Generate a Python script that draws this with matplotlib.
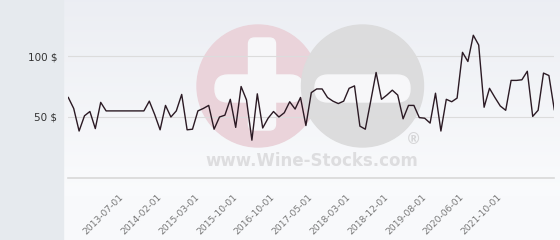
import matplotlib
matplotlib.use("Agg")
import matplotlib.pyplot as plt
import numpy as np
from matplotlib.patches import Circle, FancyBboxPatch, Rectangle

# price series, one value per quote
prices = [66, 57, 38.5, 51, 54.5, 40.5, 62, 55, 55, 55,
          55, 55, 55, 55, 55, 63, 52, 39.5, 59.5, 50,
          55, 68.5, 39.5, 40, 55, 57, 59.5, 40, 50, 51.5,
          64.5, 41.5, 75, 64, 31, 69, 41, 49, 54.5, 50,
          53.5, 62.5, 56.5, 66, 43, 70, 73, 73, 66, 63,
          61, 63, 73.5, 75.5, 42.5, 40, 63, 86.5, 64.5, 68,
          72, 68, 48.5, 59.5, 59.5, 49.5, 49, 45, 69.5, 38.5,
          64.5, 62.5, 65.5, 103, 95.5, 117, 109, 58, 73.5, 66,
          59, 55.5, 80, 80, 80.5, 87.5, 50.5, 55.5, 86, 84,
          56]

date_labels = ['2013-07-01', '2014-02-01', '2015-03-01', '2015-10-01',
               '2016-10-01', '2017-05-01', '2018-03-01', '2018-12-01',
               '2019-08-01', '2020-06-01', '2021-10-01']
first_tick = 10
tick_step = 7

y_ticks = [50, 100]

W, H = 560, 240
fig = plt.figure(figsize=(W / 100, H / 100), dpi=100)
fig.patch.set_facecolor('#f8f9fb')

# background layer in pixel units: side panel, gradient, watermark
bg = fig.add_axes([0, 0, 1, 1], zorder=0)
bg.set_xlim(0, W)
bg.set_ylim(H, 0)
bg.axis('off')

grad = np.linspace(0, 1, 200).reshape(-1, 1)
top = np.array([0.925, 0.933, 0.953])
bot = np.array([0.980, 0.984, 0.990])
img = top + (bot - top) * grad[:, :, None]
bg.imshow(img, extent=(63, W, 196, 0), aspect='auto', zorder=0)
bg.add_patch(Rectangle((0, 0), 62.5, H, color='#e6eaee', zorder=1))

# watermark
bg.add_patch(Circle((258, 86), 61, color='#ead3da', zorder=2))
bg.add_patch(FancyBboxPatch((248.5 + 6, 38 + 6), 27 - 12, 92 - 12,
                            boxstyle='round,pad=6', color='#f7f7f9', zorder=3))
bg.add_patch(FancyBboxPatch((215 + 13, 75 + 13), 88 - 26, 27 - 26,
                            boxstyle='round,pad=13', color='#f7f7f9', zorder=3))
bg.add_patch(Circle((362.5, 86), 61, color='#dcdcdd', zorder=4))
bg.add_patch(FancyBboxPatch((315 + 13, 75 + 13), 95 - 26, 27 - 26,
                            boxstyle='round,pad=13', color='#f7f7f9', zorder=5))
bg.text(312, 161, 'www.Wine-Stocks.com', ha='center', va='center',
        fontsize=12, fontweight='bold', color='#dddddf', zorder=5)
bg.text(413, 139, '\u00ae', ha='center', va='center',
        fontsize=11, fontweight='bold', color='#d6d6d8', zorder=5)

# main chart
x = np.arange(len(prices))
ax = fig.add_axes([68.3 / W, (H - 178) / H, (554.3 - 68.3) / W, 178 / H], zorder=2)
ax.set_facecolor('none')
ax.plot(x, prices, color='#2b1a24', lw=1.0, zorder=3)

ax.set_xlim(0, len(prices) - 1)
ax.set_ylim(0, 178 / 61 * 50)

ax.set_yticks(y_ticks)
ax.set_yticklabels([f'{v} $' for v in y_ticks], fontsize=7.5, color='#333333')
ax.grid(axis='y', color='#dcdcdc', lw=0.8, zorder=1)
ax.axhline(0, color='#d8d8d8', lw=1.2, clip_on=False, zorder=1)

tick_pos = [first_tick + tick_step * i for i in range(len(date_labels))]
ax.set_xticks(tick_pos)
ax.set_xticklabels(date_labels, rotation=45, ha='right', va='center',
                   rotation_mode='anchor', fontsize=6.6, color='#777777')
ax.tick_params(axis='x', length=0, pad=12.5)
ax.tick_params(axis='y', length=0, pad=8)

for s in ax.spines.values():
    s.set_visible(False)

fig.savefig('out.png', dpi=100, facecolor=fig.get_facecolor())
